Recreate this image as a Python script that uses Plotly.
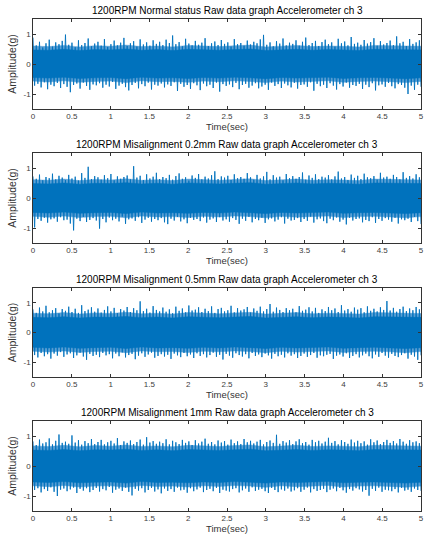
import numpy as np
import plotly.graph_objects as go

titles = [
    "1200RPM Normal status Raw data graph Accelerometer ch 3",
    "1200RPM Misalignment 0.2mm Raw data graph Accelerometer ch 3",
    "1200RPM Misalignment 0.5mm Raw data graph Accelerometer ch 3",
    "1200RPM Misalignment 1mm Raw data graph Accelerometer ch 3",
]
x_label = "Time(sec)"
y_label = "Amplitude(g)"
x_ticks = [0, 0.5, 1, 1.5, 2, 2.5, 3, 3.5, 4, 4.5, 5]
x_tick_labels = ["0", "0.5", "1", "1.5", "2", "2.5", "3", "3.5", "4", "4.5", "5"]
y_ticks = [-1, 0, 1]
y_tick_labels = ["-1", "0", "1"]
t_start, t_end = 0, 5

# Dense core band of each signal (upper / lower edge, read every 0.2 s)
cu1 = [0.47,0.46,0.49,0.45,0.48,0.47,0.50,0.46,0.48,0.45,0.49,0.47,0.46,
       0.48,0.50,0.45,0.47,0.49,0.46,0.48,0.47,0.45,0.49,0.48,0.46,0.47]
cl1 = [-0.45,-0.47,-0.44,-0.48,-0.46,-0.45,-0.49,-0.44,-0.47,-0.46,-0.48,-0.45,-0.47,
       -0.44,-0.46,-0.49,-0.45,-0.47,-0.46,-0.44,-0.48,-0.46,-0.45,-0.47,-0.49,-0.46]
cu2 = [0.48,0.47,0.50,0.46,0.49,0.48,0.51,0.47,0.49,0.46,0.50,0.48,0.47,
       0.49,0.51,0.46,0.48,0.50,0.47,0.49,0.48,0.46,0.50,0.49,0.47,0.48]
cl2 = [-0.48,-0.50,-0.47,-0.51,-0.49,-0.48,-0.52,-0.47,-0.50,-0.49,-0.51,-0.48,-0.50,
       -0.47,-0.49,-0.52,-0.48,-0.50,-0.49,-0.47,-0.51,-0.49,-0.48,-0.50,-0.52,-0.49]
cu3 = [0.51,0.50,0.53,0.49,0.52,0.51,0.54,0.50,0.52,0.49,0.53,0.51,0.50,
       0.52,0.54,0.49,0.51,0.53,0.50,0.52,0.51,0.49,0.53,0.52,0.50,0.51]
cl3 = [-0.50,-0.52,-0.49,-0.53,-0.51,-0.50,-0.54,-0.49,-0.52,-0.51,-0.53,-0.50,-0.52,
       -0.49,-0.51,-0.54,-0.50,-0.52,-0.51,-0.49,-0.53,-0.51,-0.50,-0.52,-0.54,-0.51]
cu4 = [0.53,0.52,0.55,0.51,0.54,0.53,0.56,0.52,0.54,0.51,0.55,0.53,0.52,
       0.54,0.56,0.51,0.53,0.55,0.52,0.54,0.53,0.51,0.55,0.54,0.52,0.53]
cl4 = [-0.53,-0.55,-0.52,-0.56,-0.54,-0.53,-0.57,-0.52,-0.55,-0.54,-0.56,-0.53,-0.55,
       -0.52,-0.54,-0.57,-0.53,-0.55,-0.54,-0.52,-0.56,-0.54,-0.53,-0.55,-0.57,-0.54]

# Lighter, densely-spiked fringe around the core (outer edge, read every 0.2 s)
fu1 = [0.60,0.58,0.62,0.57,0.61,0.59,0.63,0.58,0.60,0.57,0.62,0.59,0.58,
       0.61,0.63,0.57,0.59,0.62,0.58,0.60,0.59,0.57,0.62,0.61,0.58,0.59]
fl1 = [-0.57,-0.60,-0.56,-0.61,-0.58,-0.57,-0.62,-0.56,-0.59,-0.58,-0.61,-0.57,-0.59,
       -0.56,-0.58,-0.62,-0.57,-0.60,-0.58,-0.56,-0.61,-0.58,-0.57,-0.59,-0.62,-0.58]
fu2 = [0.61,0.59,0.63,0.58,0.62,0.60,0.64,0.59,0.61,0.58,0.63,0.60,0.59,
       0.62,0.64,0.58,0.60,0.63,0.59,0.61,0.60,0.58,0.63,0.62,0.59,0.60]
fl2 = [-0.61,-0.64,-0.60,-0.65,-0.62,-0.61,-0.66,-0.60,-0.63,-0.62,-0.65,-0.61,-0.63,
       -0.60,-0.62,-0.66,-0.61,-0.64,-0.62,-0.60,-0.65,-0.62,-0.61,-0.63,-0.66,-0.62]
fu3 = [0.65,0.63,0.67,0.62,0.66,0.64,0.68,0.63,0.65,0.62,0.67,0.64,0.63,
       0.66,0.68,0.62,0.64,0.67,0.63,0.65,0.64,0.62,0.67,0.66,0.63,0.64]
fl3 = [-0.63,-0.66,-0.62,-0.67,-0.64,-0.63,-0.68,-0.62,-0.65,-0.64,-0.67,-0.63,-0.65,
       -0.62,-0.64,-0.68,-0.63,-0.66,-0.64,-0.62,-0.67,-0.64,-0.63,-0.65,-0.68,-0.64]
fu4 = [0.67,0.65,0.69,0.64,0.68,0.66,0.70,0.65,0.67,0.64,0.69,0.66,0.65,
       0.68,0.70,0.64,0.66,0.69,0.65,0.67,0.66,0.64,0.69,0.68,0.65,0.66]
fl4 = [-0.66,-0.69,-0.65,-0.70,-0.67,-0.66,-0.71,-0.65,-0.68,-0.67,-0.70,-0.66,-0.68,
       -0.65,-0.67,-0.71,-0.66,-0.69,-0.67,-0.65,-0.70,-0.67,-0.66,-0.68,-0.71,-0.67]

# Estimated positive peaks / negative troughs (evenly spaced in time)
up1 = [0.88,0.62,0.74,0.55,0.69,0.81,0.58,0.72,0.66,0.77,
       0.98,0.64,0.71,0.56,0.79,0.63,0.70,0.85,0.59,0.68,
       0.74,0.61,0.83,0.57,0.66,0.78,0.62,0.71,0.87,0.60,
       0.69,0.76,0.58,0.82,0.65,0.72,0.61,0.79,0.67,0.74,
       0.63,0.81,0.70,0.95,0.66,0.73,0.59,0.84,0.68,0.62,
       0.77,0.64,0.71,0.86,0.60,0.69,0.75,0.63,0.80,0.67,
       0.72,0.58,0.83,0.66,0.70,0.61,0.78,0.65,0.74,0.69,
       0.82,0.97,0.64,0.72,0.59,0.76,0.68,0.85,0.62,0.71,
       0.67,0.79,0.61,0.74,0.88,0.63,0.70,0.77,0.60,0.73,
       0.81,0.66,0.72,0.58,0.84,0.69,0.75,0.62,0.90,0.67,
       0.71,0.64,0.80,0.68,0.73,0.86,0.61,0.76,0.65,0.70,
       0.78,0.63,0.92,0.69,0.74,0.60,0.83,0.67,0.72,0.79]
lo1 = [-0.72,-0.66,-0.78,-0.61,-0.84,-0.69,-0.74,-0.63,-0.80,-0.67,
       -0.76,-0.94,-0.70,-0.65,-0.82,-0.62,-0.73,-0.86,-0.68,-0.71,
       -0.64,-0.79,-0.69,-0.75,-0.60,-0.83,-0.72,-0.66,-0.77,-0.88,
       -0.70,-0.63,-0.81,-0.67,-0.74,-0.62,-0.85,-0.69,-0.72,-0.65,
       -0.78,-0.68,-0.73,-0.61,-0.90,-0.66,-0.76,-0.70,-0.83,-0.64,
       -0.71,-0.87,-0.65,-0.74,-0.69,-0.80,-0.62,-0.92,-0.67,-0.73,
       -0.68,-0.77,-0.63,-0.84,-0.70,-0.66,-0.79,-0.72,-0.64,-0.81,
       -0.75,-0.69,-0.86,-0.62,-0.73,-0.67,-0.80,-0.65,-0.71,-0.78,
       -0.63,-0.82,-0.70,-0.68,-0.76,-0.61,-0.89,-0.66,-0.74,-0.69,
       -0.80,-0.64,-0.72,-0.85,-0.67,-0.75,-0.62,-0.79,-0.70,-0.73,
       -0.66,-0.83,-0.69,-0.77,-0.64,-0.88,-0.71,-0.68,-0.76,-0.63,
       -0.74,-0.81,-0.67,-0.70,-0.79,-1.00,-0.72,-0.86,-0.69,-0.76]

up2 = [0.72,0.64,0.78,0.59,0.70,0.66,0.81,0.62,0.74,0.68,
       0.60,0.77,0.65,0.71,0.58,0.83,0.67,1.04,0.63,0.73,
       0.69,0.61,0.76,0.66,0.80,0.59,0.72,0.64,0.70,0.75,
       0.62,1.06,0.68,0.74,0.60,0.79,0.65,0.71,0.84,0.63,
       0.70,0.66,0.77,0.61,0.73,0.82,0.64,0.69,0.58,0.75,
       0.67,0.80,0.62,0.71,0.65,0.76,0.89,0.63,0.72,0.68,
       0.74,0.60,0.79,0.66,0.70,0.64,0.83,0.69,0.61,0.77,
       0.65,0.72,0.87,0.62,0.76,0.68,0.71,0.59,0.80,0.66,
       0.73,0.64,0.70,0.85,0.61,0.75,0.67,0.79,0.63,0.71,
       0.68,0.76,0.62,0.72,0.88,0.65,0.70,0.60,0.78,0.67,
       0.74,0.63,0.81,0.69,0.66,0.73,0.61,0.84,0.68,0.71,
       0.64,0.77,0.70,0.62,0.86,0.67,0.73,0.65,0.79,0.69]
lo2 = [-0.98,-0.70,-0.76,-0.66,-0.82,-0.71,-0.68,-0.79,-0.64,-0.74,
       -0.72,-0.85,-1.08,-0.69,-0.77,-0.63,-0.80,-0.73,-0.67,-0.75,
       -1.02,-0.70,-0.81,-0.65,-0.74,-0.69,-0.78,-0.62,-0.86,-0.71,
       -0.68,-0.76,-0.64,-0.83,-0.72,-0.66,-0.79,-0.70,-0.74,-0.67,
       -0.81,-0.87,-0.69,-0.75,-0.63,-0.78,-0.71,-0.84,-0.66,-0.73,
       -0.70,-0.77,-0.65,-0.82,-0.72,-0.68,-0.80,-0.64,-0.75,-0.71,
       -0.79,-0.67,-0.73,-0.86,-0.69,-0.76,-0.63,-0.81,-0.70,-0.74,
       -0.66,-0.83,-0.71,-0.68,-0.78,-0.72,-0.64,-0.85,-0.69,-0.75,
       -0.73,-0.67,-0.80,-0.70,-0.76,-0.62,-0.82,-0.71,-0.68,-0.77,
       -0.84,-0.69,-0.74,-0.65,-0.79,-0.72,-0.88,-0.66,-0.75,-0.70,
       -0.68,-0.81,-0.73,-0.77,-0.64,-0.83,-0.70,-0.76,-0.67,-0.72,
       -0.79,-0.66,-0.85,-0.71,-0.74,-0.69,-0.80,-0.63,-0.77,-0.87]

up3 = [0.78,0.66,0.84,0.71,0.90,0.68,0.75,0.82,0.64,0.79,
       0.73,0.87,0.69,0.80,0.66,0.92,0.72,0.77,0.85,0.70,
       0.81,0.67,0.76,0.88,0.71,0.83,0.65,0.79,0.74,0.86,
       0.69,0.82,0.75,1.05,0.72,0.80,0.67,0.89,0.76,0.71,
       0.84,0.70,0.78,0.65,0.87,0.73,0.81,0.68,0.91,0.74,
       0.77,0.85,0.69,0.80,0.72,0.88,0.66,0.79,0.83,0.71,
       0.75,0.90,0.68,0.82,0.74,0.78,0.86,0.67,0.81,0.73,
       0.87,0.71,0.79,0.96,0.70,0.84,0.76,0.69,0.82,0.75,
       0.80,0.68,0.89,0.73,0.77,0.85,0.71,0.83,0.66,0.78,
       0.72,0.86,0.75,0.81,0.69,0.92,0.74,0.79,0.70,0.84,
       0.77,0.82,0.68,0.88,0.73,0.80,0.71,0.85,0.76,1.06,
       0.74,0.83,0.70,0.79,0.87,0.72,0.81,0.75,0.86,0.78]
lo3 = [-0.76,-0.84,-0.69,-0.80,-0.73,-0.88,-0.71,-0.78,-0.66,-0.82,
       -0.74,-0.70,-0.86,-0.77,-0.68,-0.81,-0.92,-0.72,-0.79,-0.75,
       -0.83,-0.69,-0.77,-0.73,-0.87,-0.71,-0.80,-0.67,-0.84,-0.76,
       -0.72,-0.90,-0.78,-0.70,-0.82,-0.74,-0.68,-0.85,-0.79,-0.73,
       -0.81,-0.75,-0.89,-0.71,-0.77,-0.83,-0.69,-0.80,-0.74,-0.86,
       -0.70,-0.79,-0.73,-0.84,-0.76,-0.68,-0.82,-0.75,-0.91,-0.72,
       -0.78,-0.85,-0.70,-0.76,-0.81,-0.73,-0.87,-0.69,-0.79,-0.74,
       -0.83,-0.71,-0.77,-0.88,-0.72,-0.80,-0.75,-0.84,-0.70,-0.78,
       -0.73,-0.86,-0.79,-0.71,-0.82,-0.76,-0.69,-0.85,-0.77,-0.80,
       -0.75,-0.72,-0.89,-0.78,-0.74,-0.81,-0.70,-0.86,-0.79,-0.73,
       -0.84,-0.77,-0.71,-0.80,-0.87,-0.74,-0.82,-0.69,-0.78,-0.85,
       -0.72,-0.79,-0.83,-0.76,-0.70,-0.88,-0.75,-0.81,-0.92,-0.77]

up4 = [0.82,0.70,0.88,0.75,0.79,0.92,0.72,0.84,1.05,0.77,
       0.81,0.74,1.02,0.78,0.86,0.71,0.83,0.76,0.90,0.73,
       0.80,0.87,0.72,0.79,0.84,0.75,0.93,0.70,0.82,0.77,
       0.85,0.73,0.80,0.88,0.71,0.96,0.78,0.83,0.74,0.81,
       0.76,0.89,0.72,0.84,0.79,0.73,0.87,0.77,0.82,0.70,
       0.86,0.75,0.81,0.91,0.74,0.80,0.72,0.85,0.78,0.83,
       0.71,0.88,0.76,0.82,0.73,0.90,0.79,0.84,0.75,0.81,
       0.87,0.72,0.80,0.85,0.77,1.04,0.74,0.83,0.78,0.86,
       0.73,0.82,0.89,0.76,0.80,0.71,0.87,0.79,0.84,0.75,
       0.81,0.94,0.77,0.83,0.72,0.86,0.80,0.74,0.88,0.78,
       0.84,0.76,0.82,0.71,0.89,0.79,0.85,0.73,0.80,0.87,
       0.77,0.83,0.75,0.90,0.81,0.74,0.86,0.79,0.82,0.76]
lo4 = [-0.80,-0.74,-0.88,-0.77,-0.83,-0.71,-0.86,-1.00,-0.79,-0.75,
       -0.84,-0.78,-0.72,-0.90,-0.76,-0.82,-0.74,-0.87,-0.80,-0.73,
       -0.85,-0.77,-0.81,-0.70,-0.89,-0.79,-0.75,-0.83,-0.72,-0.86,
       -0.98,-0.76,-0.82,-0.74,-0.88,-0.80,-0.73,-0.85,-0.78,-0.91,
       -0.75,-0.83,-0.77,-0.86,-0.72,-0.81,-0.79,-0.89,-0.74,-0.84,
       -0.78,-0.72,-0.87,-0.80,-0.76,-0.84,-0.73,-0.90,-0.79,-0.82,
       -0.85,-0.77,-0.74,-0.88,-0.81,-0.75,-0.86,-0.71,-0.83,-0.79,
       -0.76,-0.84,-0.90,-0.73,-0.80,-0.87,-0.78,-0.82,-0.75,-0.85,
       -0.81,-0.74,-0.86,-0.79,-0.72,-0.88,-0.77,-0.83,-0.80,-0.76,
       -0.87,-0.79,-0.75,-0.84,-0.73,-0.81,-0.89,-0.77,-0.82,-0.74,
       -0.78,-0.85,-0.80,-0.99,-0.76,-0.83,-0.72,-0.86,-0.79,-0.81,
       -0.84,-0.77,-0.88,-0.73,-0.82,-0.79,-0.86,-0.75,-0.80,-0.83]

cores = [(cu1, cl1), (cu2, cl2), (cu3, cl3), (cu4, cl4)]
fringes = [(fu1, fl1), (fu2, fl2), (fu3, fl3), (fu4, fl4)]
series = [(up1, lo1), (up2, lo2), (up3, lo3), (up4, lo4)]

W, H = 424, 544
tops = [19, 153, 288, 421]
bottoms = [109, 243, 377, 511]
FONT = "Liberation Sans, Arial, sans-serif"
AXC = "#333333"
TXC = "#404040"
BLUE = "#0072BD"
FRINGE = "#5a9fd4"


def band(upper, lower, color, sfx):
    tc = np.linspace(t_start, t_end, len(upper))
    return go.Scatter(
        x=np.concatenate([tc, tc[::-1]]),
        y=np.concatenate([np.array(upper), np.array(lower)[::-1]]),
        mode="lines", fill="toself", fillcolor=color,
        line=dict(color=color, width=0.5),
        xaxis="x" + sfx, yaxis="y" + sfx,
        showlegend=False, hoverinfo="skip",
    )


fig = go.Figure()
annotations = []
for k in range(4):
    sfx = "" if k == 0 else str(k + 1)
    fu, fl = fringes[k]
    fig.add_trace(band(fu, fl, FRINGE, sfx))
    up, lo = series[k]
    n = len(up)
    y = np.empty(2 * n)
    y[0::2] = up
    y[1::2] = lo
    x = np.linspace(t_start, t_end, 2 * n)
    fig.add_trace(go.Scatter(
        x=x, y=y, mode="lines",
        line=dict(color=BLUE, width=0.9),
        xaxis="x" + sfx, yaxis="y" + sfx,
        showlegend=False, hoverinfo="skip",
    ))
    cu, cl = cores[k]
    fig.add_trace(band(cu, cl, BLUE, sfx))

    dom = [1 - bottoms[k] / H, 1 - tops[k] / H]
    fig.layout["xaxis" + sfx] = dict(
        domain=[0, 1], anchor="y" + sfx, range=[t_start, t_end],
        tickmode="array", tickvals=x_ticks, ticktext=x_tick_labels,
        ticks="inside", ticklen=3, tickwidth=0.6, tickcolor=AXC,
        showline=True, mirror="ticks", linecolor=AXC, linewidth=0.6,
        showgrid=False, zeroline=False, ticklabeloverflow="allow",
        tickfont=dict(family=FONT, size=8, color=TXC),
        title=dict(text=x_label, font=dict(family=FONT, size=9.5, color=AXC), standoff=1),
    )
    fig.layout["yaxis" + sfx] = dict(
        domain=dom, anchor="x" + sfx, range=[-1.5, 1.5],
        tickmode="array", tickvals=y_ticks, ticktext=y_tick_labels,
        ticks="inside", ticklen=3, tickwidth=0.6, tickcolor=AXC,
        showline=True, mirror="ticks", linecolor=AXC, linewidth=0.6,
        showgrid=False, zeroline=False, ticklabeloverflow="allow",
        tickfont=dict(family=FONT, size=8, color=TXC),
        title=dict(text=y_label, font=dict(family=FONT, size=10.5, color=AXC), standoff=4),
    )
    annotations.append(dict(
        text=titles[k], x=0.5, y=dom[1], xref="paper", yref="paper",
        xanchor="center", yanchor="bottom", yshift=1, showarrow=False,
        font=dict(family=FONT, size=10, color="#000000"),
    ))

fig.update_layout(
    width=W, height=H,
    margin=dict(l=33, r=1, t=0, b=0),
    paper_bgcolor="white", plot_bgcolor="white",
    annotations=annotations,
    showlegend=False,
)
fig.write_html(
    "out.html",
    config={"displayModeBar": False},
    post_script="document.body.style.margin='0px';document.body.style.overflow='hidden';",
)
